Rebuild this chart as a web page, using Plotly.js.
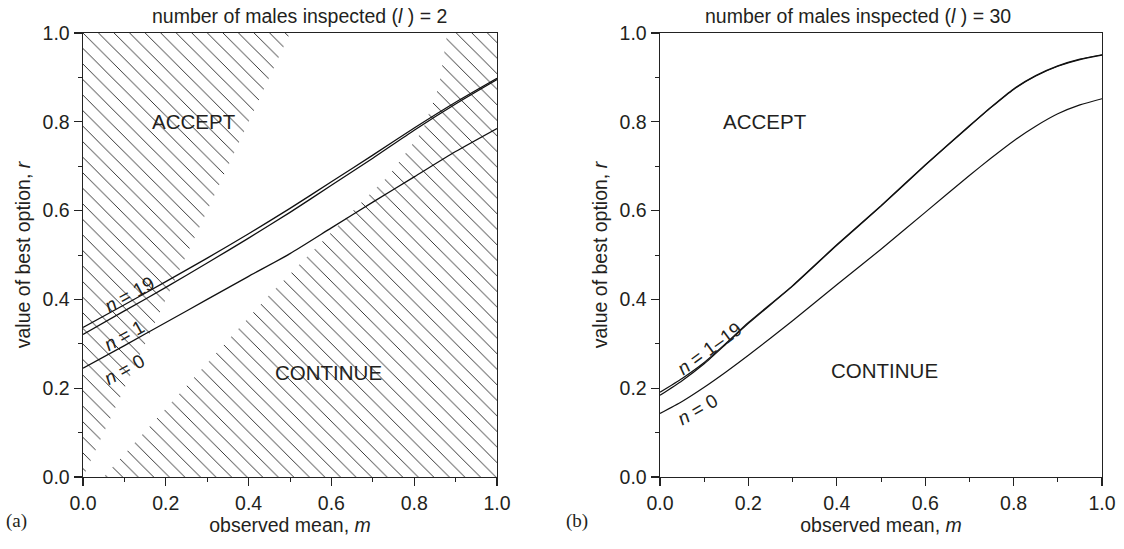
<!DOCTYPE html>
<html>
<head>
<meta charset="utf-8">
<script src="https://cdn.plot.ly/plotly-3.0.1.min.js"></script>
<style>
  html, body { margin: 0; padding: 0; background: #fff; }
  #chart { width: 1124px; height: 549px; }
</style>
</head>
<body>
<div id="chart"></div>
<script>
// Observed mean m (x) and threshold value of best option r (y)

// Panel (a): l = 2 males inspected
const meanA = [0, 0.1, 0.2, 0.3, 0.4, 0.5, 0.6, 0.7, 0.8, 0.9, 1.0];
const rA_n0  = [0.245, 0.296, 0.348, 0.400, 0.452, 0.503, 0.561, 0.619, 0.676, 0.733, 0.785];
const rA_n1  = [0.321, 0.374, 0.427, 0.482, 0.538, 0.596, 0.657, 0.718, 0.781, 0.840, 0.895];
const rA_n19 = [0.337, 0.388, 0.440, 0.493, 0.548, 0.605, 0.665, 0.725, 0.786, 0.844, 0.898];

// Hatched (unreachable) regions of panel (a)
const hatchUpperM = [0, 0.5, 0, 0];
const hatchUpperR = [0, 1.0, 1.0, 0];
const hatchLowerM = [0.05, 0.45, 0.62, 0.74, 0.82, 0.86, 0.88, 1.0, 1.0, 0.05];
const hatchLowerR = [0.0, 0.41, 0.57, 0.68, 0.78, 0.88, 1.0, 1.0, 0.0, 0.0];

// Panel (b): l = 30 males inspected
const meanB = [0, 0.05, 0.1, 0.15, 0.2, 0.3, 0.4, 0.5, 0.6, 0.7, 0.75, 0.8, 0.85, 0.9, 0.95, 1.0];
const rB_n0  = [0.143, 0.170, 0.202, 0.237, 0.274, 0.352, 0.433, 0.513, 0.596, 0.679, 0.719, 0.757, 0.790, 0.818, 0.838, 0.852];
const rB_n1  = [0.184, 0.217, 0.255, 0.300, 0.346, 0.430, 0.522, 0.610, 0.702, 0.790, 0.833, 0.873, 0.903, 0.925, 0.940, 0.950];
const rB_n19 = [0.191, 0.222, 0.258, 0.302, 0.348, 0.431, 0.523, 0.611, 0.703, 0.791, 0.834, 0.874, 0.904, 0.926, 0.941, 0.951];

const panelTitles = ['number of males inspected (<i>l</i> ) = 2', 'number of males inspected (<i>l</i> ) = 30'];
const xTitle = 'observed mean, <i>m</i>';
const yTitle = 'value of best option, <i>r</i>';
const tickVals = [0, 0.2, 0.4, 0.6, 0.8, 1.0];
const tickText = ['0.0', '0.2', '0.4', '0.6', '0.8', '1.0'];

const FONT = 'Liberation Sans, Arial, Helvetica, sans-serif';
const SERIF = 'Liberation Serif, Times New Roman, serif';
const INK = '#231f20';

const hatch = {shape: '\\', size: 11, solidity: 0.085, fgcolor: '#2a2a2a', bgcolor: 'rgba(255,255,255,0)', fgopacity: 1};

function curve(x, y, xa, ya, w) {
  return {x: x, y: y, xaxis: xa, yaxis: ya, mode: 'lines', type: 'scatter',
          line: {color: '#111', width: w, shape: 'spline', smoothing: 0.6},
          hoverinfo: 'skip', showlegend: false};
}
function region(x, y) {
  return {x: x, y: y, xaxis: 'x', yaxis: 'y', mode: 'lines', type: 'scatter',
          fill: 'toself', fillcolor: 'rgba(255,255,255,0)', fillpattern: hatch,
          line: {width: 0, color: 'rgba(0,0,0,0)'}, hoverinfo: 'skip', showlegend: false};
}

const data = [
  region(hatchUpperM, hatchUpperR),
  region(hatchLowerM, hatchLowerR),
  curve(meanA, rA_n0, 'x', 'y', 1.3),
  curve(meanA, rA_n1, 'x', 'y', 1.3),
  curve(meanA, rA_n19, 'x', 'y', 1.3),
  curve(meanB, rB_n0, 'x2', 'y2', 1.2),
  curve(meanB, rB_n1, 'x2', 'y2', 1.2),
  curve(meanB, rB_n19, 'x2', 'y2', 1.2)
];

function xAxis(dom, anchor) {
  return {domain: dom, anchor: anchor, range: [0, 1], tickvals: tickVals, ticktext: tickText,
          ticks: 'outside', ticklen: 8, tickwidth: 1.2, tickcolor: '#222',
          minor: {dtick: 0.1, tick0: 0, ticks: 'outside', ticklen: 4, tickwidth: 1, tickcolor: '#222'},
          showline: true, linecolor: '#222', linewidth: 1.4, mirror: true,
          showgrid: false, zeroline: false, fixedrange: true,
          tickfont: {family: FONT, size: 19.5, color: INK},
          title: {text: xTitle, font: {family: FONT, size: 19.5, color: INK}, standoff: 3}};
}
function yAxis(anchor) {
  return {domain: [0, 1], anchor: anchor, range: [0, 1], tickvals: tickVals, ticktext: tickText,
          ticks: 'outside', ticklen: 8, tickwidth: 1.2, tickcolor: '#222',
          minor: {dtick: 0.1, tick0: 0, ticks: 'outside', ticklen: 4, tickwidth: 1, tickcolor: '#222'},
          showline: true, linecolor: '#222', linewidth: 1.4, mirror: true,
          showgrid: false, zeroline: false, fixedrange: true,
          tickfont: {family: FONT, size: 19.5, color: INK},
          title: {text: yTitle, font: {family: FONT, size: 19.5, color: INK}, standoff: 6}};
}

function note(text, x, y, xref, yref, size, angle, extra) {
  return Object.assign({text: text, x: x, y: y, xref: xref, yref: yref, showarrow: false,
          textangle: angle || 0, font: {family: FONT, size: size, color: INK},
          xanchor: 'center', yanchor: 'middle'}, extra || {});
}

const annotations = [
  note(panelTitles[0], 300 / 1124, 1, 'paper', 'paper', 19.5, 0, {yshift: 17}),
  note(panelTitles[1], 858 / 1124, 1, 'paper', 'paper', 19.5, 0, {yshift: 17}),
  note('ACCEPT', 0.267, 0.80, 'x', 'y', 20.5),
  note('CONTINUE', 0.592, 0.235, 'x', 'y', 20.5),
  note('<i>n</i> = 19', 0.112, 0.41, 'x', 'y', 19, -29),
  note('<i>n</i> = 1', 0.100, 0.318, 'x', 'y', 19, -29),
  note('<i>n</i> = 0', 0.100, 0.242, 'x', 'y', 19, -29),
  note('ACCEPT', 0.237, 0.80, 'x2', 'y2', 20.5),
  note('CONTINUE', 0.508, 0.24, 'x2', 'y2', 20.5),
  note('<i>n</i> = 1–19', 0.112, 0.29, 'x2', 'y2', 19, -36),
  note('<i>n</i> = 0', 0.085, 0.153, 'x2', 'y2', 19, -30),
  note('(a)', 16 / 1124, 0, 'paper', 'paper', 19, 0, {yshift: -44, font: {family: SERIF, size: 19, color: INK}}),
  note('(b)', 577 / 1124, 0, 'paper', 'paper', 19, 0, {yshift: -44, font: {family: SERIF, size: 19, color: INK}})
];

const layout = {
  width: 1124, height: 549,
  margin: {l: 0, r: 0, t: 33, b: 72},
  paper_bgcolor: '#fff', plot_bgcolor: 'rgba(0,0,0,0)',
  xaxis: xAxis([83 / 1124, 497 / 1124], 'y'),
  yaxis: yAxis('x'),
  xaxis2: xAxis([660 / 1124, 1102 / 1124], 'y2'),
  yaxis2: yAxis('x2'),
  annotations: annotations,
  showlegend: false
};

Plotly.newPlot('chart', data, layout, {displayModeBar: false, staticPlot: true});
</script>
</body>
</html>
